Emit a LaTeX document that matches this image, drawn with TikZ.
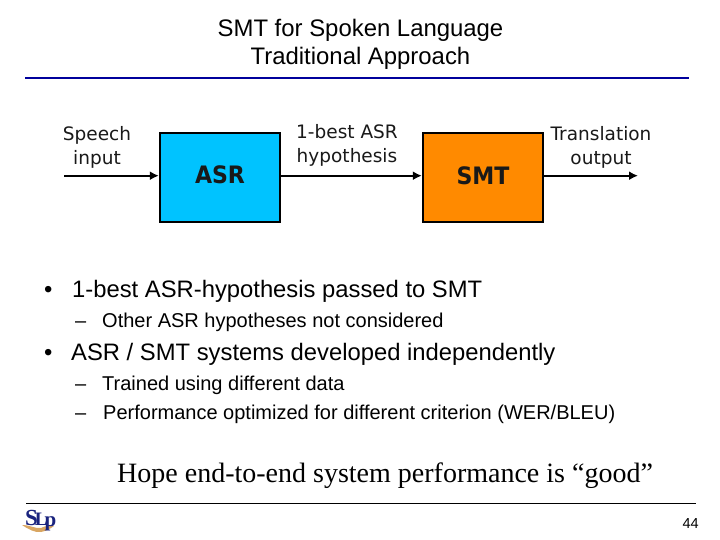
\documentclass[tikz,border=0pt]{standalone}
\usepackage{fontspec}
\setmainfont{Liberation Sans}
\newfontfamily\serifface{Liberation Serif}
\newfontfamily\verdface{DejaVu Sans}
\usetikzlibrary{arrows.meta}
\definecolor{ruleblue}{HTML}{00009C}
\definecolor{asrblue}{HTML}{00C3FF}
\definecolor{smtorange}{HTML}{FF8A00}
\definecolor{logonavy}{HTML}{1A237E}
\definecolor{logotan}{HTML}{D9A662}
\tikzset{
  x=1pt,y=-1pt,
  txt/.style={inner sep=0pt,anchor=base west,text=black},
  fsz/.style={font=\fontsize{#1}{#1}\selectfont},
  procbox/.style={draw=black,line width=2.4pt,minimum width=120pt,minimum height=89pt,inner sep=0pt},
  boxlabel/.style={inner sep=0pt,text=black!90,font=\verdface\bfseries\fontsize{24}{24}\selectfont},
  diag/.style={inner sep=0pt,align=center,text=black!90,font=\verdface\fontsize{18.5}{24}\selectfont},
  flow/.style={line width=2pt,-{Latex[length=9pt,width=9pt]}},
  rulethin/.style={line width=0.8pt,black}
}
\begin{document}
\begin{tikzpicture}
\useasboundingbox (0,0) rectangle (720,540);
\fill[white] (0,0) rectangle (720,540);
% title
\node[inner sep=0pt,align=center,font=\fontsize{23.9}{28}\selectfont] (title) at (360.5,44.5) {SMT for Spoken Language\\Traditional Approach};
\coordinate (ra) at (25,78); \coordinate (rb) at (689,78);
\draw[ruleblue,line width=2.6pt] (ra) -- (rb);
% diagram
\node[procbox,fill=asrblue] (asr) at (220,177.5) {};
\node[procbox,fill=smtorange] (smt) at (483,177.5) {};
\node[boxlabel] (asrt) at (220,175) {\scalebox{0.92}[1]{ASR}};
\node[boxlabel] (smtt) at (483,175.5) {\scalebox{0.92}[1]{SMT}};
\node[diag] (speech) at (97,147) {Speech\\input};
\node[diag] (best) at (347,145.5) {1-best ASR\\hypothesis};
\node[diag] (trans) at (601,147.5) {Translation\\output};
\coordinate (in) at (64,175.7);
\coordinate (out) at (638,175.7);
\draw[flow] (in) -- (asr.west |- in);
\draw[flow] (asr.east |- in) -- (smt.west |- in);
\draw[flow] (smt.east |- in) -- (out);
% bullets
\node[txt,fsz=23.8] (b1) at (44,297) {•};
\node[txt,fsz=23.8] (b1t) at (72,297) {1-best ASR-hypothesis passed to SMT};
\node[txt,fsz=20] (d1) at (75,327) {–};
\node[txt,fsz=20] (d1t) at (102,327) {Other ASR hypotheses not considered};
\node[txt,fsz=23.8] (b2) at (44,360) {•};
\node[txt,fsz=23.8] (b2t) at (71,360) {ASR / SMT systems developed independently};
\node[txt,fsz=20] (d2) at (75,390) {–};
\node[txt,fsz=20] (d2t) at (102,390) {Trained using different data};
\node[txt,fsz=20] (d3) at (75,419) {–};
\node[txt,fsz=20] (d3t) at (103,419) {Performance optimized for different criterion (WER/BLEU)};
\node[txt,font=\serifface\fontsize{28}{28}\selectfont] (hope) at (117,482) {Hope end-to-end system performance is “good”};
% footer
\coordinate (fa) at (26,503); \coordinate (fb) at (696,503);
\draw[rulethin] (fa) -- (fb);
\node[inner sep=0pt,anchor=base east,font=\fontsize{14.5}{14.5}\selectfont] (pg) at (699,528) {44};
% logo
\fill[logotan] (22,525) .. controls (30,525) and (36,529) .. (41,528) .. controls (45,526) and (50,525) .. (54,526) .. controls (50,529) and (46,531) .. (41,532) .. controls (35,533) and (28,529) .. (22,525) -- cycle;
\node[inner sep=0pt,anchor=base west,text=logonavy,font=\serifface\bfseries\fontsize{23}{23}\selectfont] (logo) at (25,525) {S\kern-3pt{\fontsize{19}{19}\selectfont L}\kern-3pt\raisebox{-1pt}{\fontsize{21}{21}\selectfont p}};
\end{tikzpicture}
\end{document}
